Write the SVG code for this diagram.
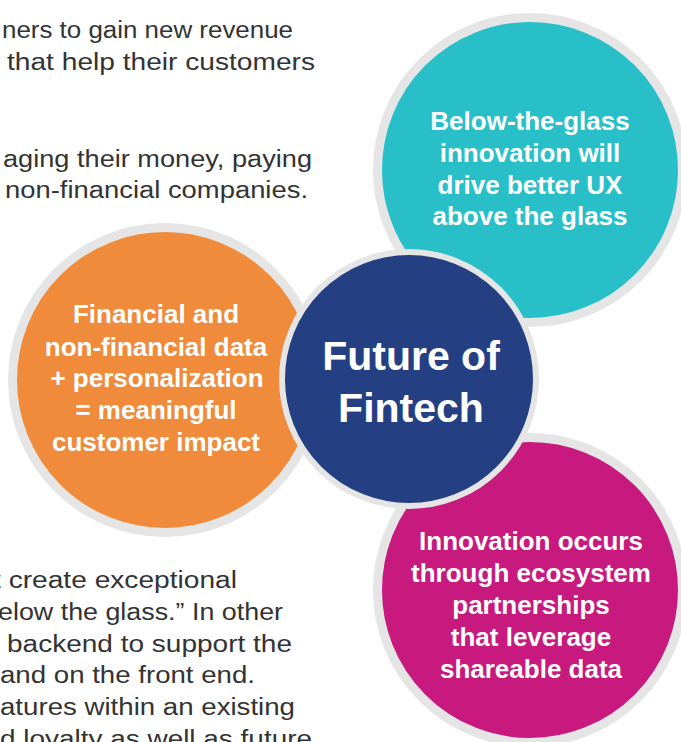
<svg xmlns="http://www.w3.org/2000/svg" width="681" height="742" viewBox="0 0 681 742">
<style>
.bg{font-family:"Liberation Sans",Arial,sans-serif;font-size:23px;fill:#333333;}
.lbl{font-family:"Liberation Sans",Arial,sans-serif;font-weight:bold;font-size:26px;fill:#ffffff;text-anchor:middle;}
.title{font-family:"Liberation Sans",Arial,sans-serif;font-weight:bold;font-size:41px;fill:#ffffff;text-anchor:middle;}
.ring{stroke:#e5e5e5;stroke-width:9;}
</style>
<rect width="681" height="742" fill="#ffffff"/>
<g id="body-text">
<text class="bg" x="2" y="38" textLength="291" lengthAdjust="spacingAndGlyphs">ners to gain new revenue</text>
<text class="bg" x="7" y="70" textLength="308" lengthAdjust="spacingAndGlyphs">that help their customers</text>
<text class="bg" x="3" y="167" textLength="309" lengthAdjust="spacingAndGlyphs">aging their money, paying</text>
<text class="bg" x="5" y="198" textLength="303" lengthAdjust="spacingAndGlyphs">non-financial companies.</text>
<text class="bg" x="-7" y="588" textLength="244" lengthAdjust="spacingAndGlyphs">t create exceptional</text>
<text class="bg" x="-2" y="620" textLength="285" lengthAdjust="spacingAndGlyphs">elow the glass.” In other</text>
<text class="bg" x="7" y="652" textLength="285" lengthAdjust="spacingAndGlyphs">backend to support the</text>
<text class="bg" x="0" y="683" textLength="255" lengthAdjust="spacingAndGlyphs">and on the front end.</text>
<text class="bg" x="0" y="715" textLength="295" lengthAdjust="spacingAndGlyphs">atures within an existing</text>
<text class="bg" x="0" y="747" textLength="312" lengthAdjust="spacingAndGlyphs">d loyalty as well as future</text>
</g>
<g id="node-teal">
<circle class="ring" cx="530" cy="170" r="152.5" fill="#29bfc9"/>
<text class="lbl" x="530" y="130">Below-the-glass</text>
<text class="lbl" x="530" y="162">innovation will</text>
<text class="lbl" x="530" y="194">drive better UX</text>
<text class="lbl" x="530" y="225">above the glass</text>
</g>
<g id="node-orange">
<circle class="ring" cx="165" cy="380" r="152.5" fill="#ef8b3b"/>
<text class="lbl" x="156" y="323">Financial and</text>
<text class="lbl" x="156" y="356">non-financial data</text>
<text class="lbl" x="157" y="387">+ personalization</text>
<text class="lbl" x="156" y="419">= meaningful</text>
<text class="lbl" x="156" y="451">customer impact</text>
</g>
<g id="node-magenta">
<circle class="ring" cx="530" cy="590" r="152.5" fill="#c7197e"/>
<text class="lbl" x="531" y="550">Innovation occurs</text>
<text class="lbl" x="531" y="582">through ecosystem</text>
<text class="lbl" x="531" y="614">partnerships</text>
<text class="lbl" x="531" y="646">that leverage</text>
<text class="lbl" x="531" y="678">shareable data</text>
</g>
<g id="node-center">
<circle cx="409" cy="379" r="127" fill="#243f82" stroke="#e5e5e5" stroke-width="6"/>
<text class="title" x="411" y="370">Future of</text>
<text class="title" x="411" y="422">Fintech</text>
</g>
</svg>
